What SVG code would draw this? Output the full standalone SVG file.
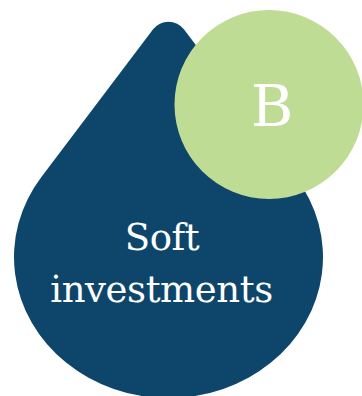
<svg xmlns="http://www.w3.org/2000/svg" width="362" height="396" viewBox="0 0 362 396">
<style>
.drop{fill:#0E466B}
.badge{fill:#BFDC95}
.lbl{fill:#FFFFFF;font-family:"DejaVu Serif","Liberation Serif",serif;text-anchor:middle}
</style>
<g id="drop">
<path class="drop" d="M153.1 29.3 A19.3 19.3 0 0 1 183.9 29.3 L295.6 176.9 A154.5 141 0 1 1 41.4 176.9 Z"/>
<text class="lbl" x="162" y="250" font-size="37" letter-spacing="-0.4">Soft</text>
<text class="lbl" x="161.5" y="301.5" font-size="37" letter-spacing="-0.4">investments</text>
</g>
<g id="badge">
<circle class="badge" cx="269" cy="104.5" r="94.5"/>
<text class="lbl" x="272" y="125.7" font-size="58">B</text>
</g>
<g id="connectors"/>
</svg>
